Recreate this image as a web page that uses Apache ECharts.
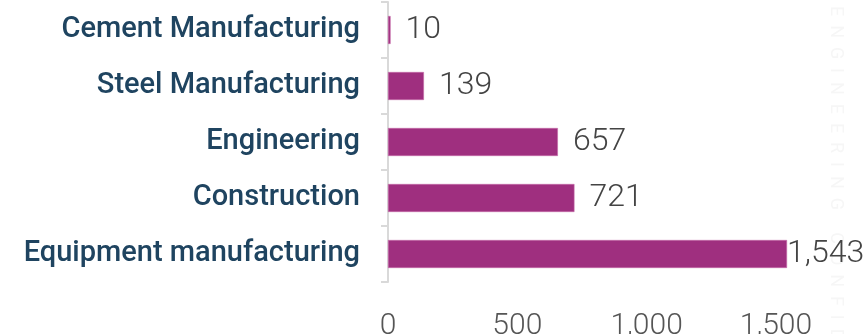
<!DOCTYPE html>
<html>
<head>
<meta charset="utf-8">
<script src="https://cdn.jsdelivr.net/npm/echarts@6/dist/echarts.min.js"></script>
<style>
  html, body { margin: 0; padding: 0; background: #ffffff; }
  #chart { width: 864px; height: 334px; }
</style>
</head>
<body>
<div id="chart"></div>
<script>
// Sectors and their counts, listed top to bottom
const categories = [
  'Cement Manufacturing',
  'Steel Manufacturing',
  'Engineering',
  'Construction',
  'Equipment manufacturing'
];
const values = [10, 139, 657, 721, 1543];
const xTicks = [0, 500, 1000, 1500];

const watermark = 'ENGINEERING CONFIDENTIAL'.split('').join('  ');

const chart = echarts.init(document.getElementById('chart'), null, { renderer: 'canvas' });

const lastIndex = values.length - 1;
const seriesData = values.map((v, i) => i === lastIndex
  ? { value: v, label: { distance: 0 } }
  : v);

chart.setOption({
  animation: false,
  backgroundColor: '#ffffff',
  grid: {
    left: 388, right: 10.5, top: 2, bottom: 52,
    containLabel: false,
    outerBoundsMode: 'none'
  },
  xAxis: {
    type: 'value',
    min: 0,
    max: 1800,
    interval: 500,
    axisLine: { show: false },
    axisTick: { show: false },
    splitLine: { show: false },
    axisLabel: {
      margin: 29,
      fontFamily: 'Roboto',
      fontWeight: 300,
      fontSize: 30,
      color: '#555555',
      showMaxLabel: false,
      formatter: v => xTicks.indexOf(v) >= 0 ? v.toLocaleString('en-US') : ''
    }
  },
  yAxis: {
    type: 'category',
    data: categories,
    inverse: true,
    axisLine: { show: true, lineStyle: { color: '#d9d9d9', width: 2 } },
    axisTick: { show: true, length: 7, lineStyle: { color: '#d9d9d9', width: 2 } },
    splitLine: { show: false },
    axisLabel: {
      margin: 28,
      fontFamily: 'Roboto',
      fontWeight: 500,
      fontSize: 29,
      color: '#1f4460'
    }
  },
  series: [{
    type: 'bar',
    data: seriesData,
    barWidth: 28,
    itemStyle: { color: '#9f2f7f', borderColor: '#c66aa8', borderWidth: 0.6 },
    label: {
      show: true,
      position: 'right',
      distance: 15,
      fontFamily: 'Roboto',
      fontWeight: 300,
      fontSize: 32,
      color: '#444444',
      formatter: p => p.value.toLocaleString('en-US')
    }
  }],
  graphic: [{
    type: 'text',
    x: 844,
    y: 6,
    rotation: -Math.PI / 2,
    style: {
      text: watermark,
      fontFamily: 'Roboto',
      fontSize: 18,
      fill: '#f6f6f6'
    }
  }]
});
</script>
</body>
</html>
